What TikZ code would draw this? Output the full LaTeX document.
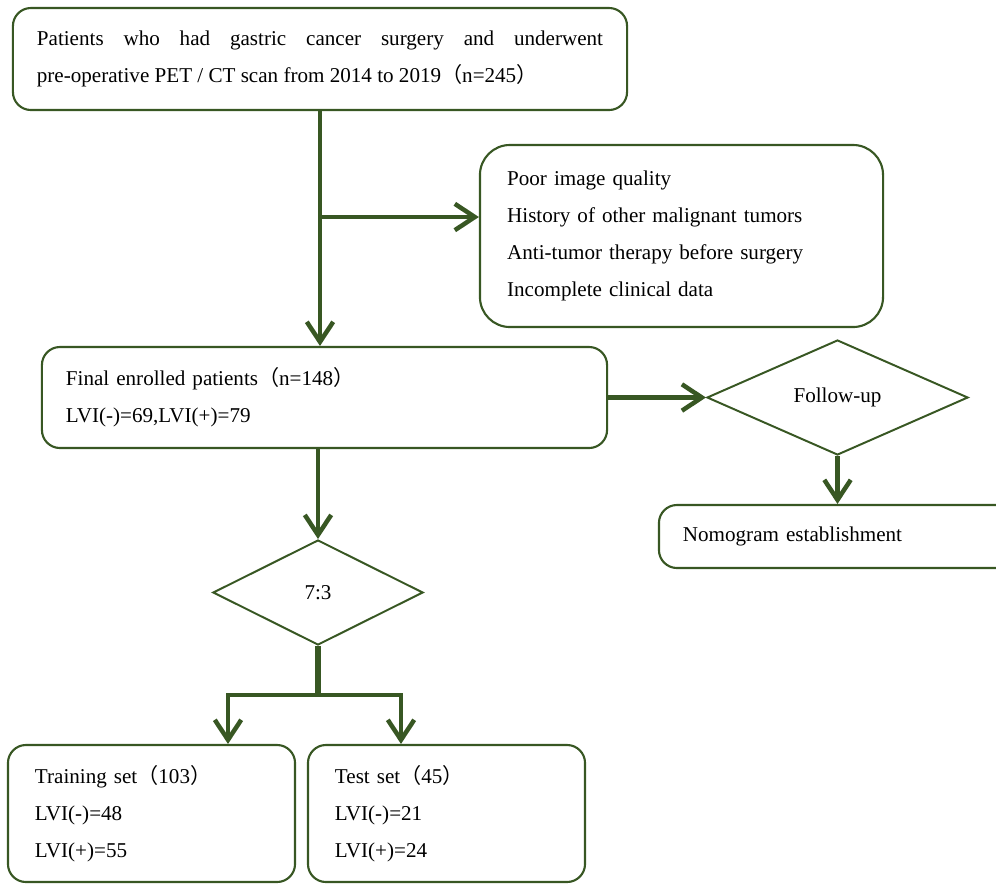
\documentclass[tikz,border=0pt]{standalone}
\usepackage{fontspec}
\setmainfont{Liberation Serif}
\newfontfamily\cjk{Noto Sans CJK SC}
\usepackage{tikz}
\usetikzlibrary{arrows.meta,positioning,calc,shapes.geometric}
\definecolor{dgreen}{RGB}{56,87,35}
\newcommand{\fwl}{{\cjk （}}
\newcommand{\fwr}{{\cjk ）}}

\begin{document}
\begin{tikzpicture}[
    x=0.025cm, y=-0.025cm,
    box/.style={draw=dgreen, line width=1.5pt, rounded corners=0.45cm, align=left, inner xsep=0.6cm, inner ysep=0pt,
                font=\fontsize{15}{26.2}\selectfont},
    choice/.style={draw=dgreen, line width=1.4pt, diamond, inner sep=0pt, font=\fontsize{15}{26.2}\selectfont},
    wire/.style={draw=dgreen, line width=3.2pt, -{Straight Barb[length=0.5cm, width=0.66cm]}},
    link/.style={draw=dgreen, line width=3.6pt}
  ]
  \useasboundingbox (0,0) rectangle (996,884);

  \node[box, minimum width=15.35cm, minimum height=2.55cm, text width=14.15cm, align=justify] (top) at (320,59)
    {Patients who had gastric cancer surgery and underwent\linebreak pre-operative PET / CT scan from 2014 to 2019\fwl n=245\fwr};
  \node[box, rounded corners=0.75cm, inner xsep=0.68cm, minimum width=10.075cm, minimum height=4.55cm, text width=8.715cm] (excl) at (681.5,236)
    {Poor image quality\\History of other malignant tumors\\Anti-tumor therapy before surgery\\Incomplete clinical data};
  \node[box, minimum width=14.125cm, minimum height=2.525cm, text width=12.925cm] (final) at (324.5,397.5)
    {Final enrolled patients\fwl n=148\fwr\\LVI(-)=69,LVI(+)=79};
  \node[choice, minimum width=6.525cm, minimum height=2.875cm] (follow) at (837.5,397.5) {Follow-up};
  \node[box, minimum width=8.9cm, minimum height=1.575cm, text width=7.7cm] (nomo) at (837,536.5) {Nomogram establishment};
  \node[choice, minimum width=5.25cm, minimum height=2.625cm] (split) at (318,592.5) {7:3};
  \node[box, inner xsep=0.675cm, minimum width=7.175cm, minimum height=3.425cm, text width=5.825cm] (train) at (151.5,813.5)
    {Training set\fwl 103\fwr\\LVI(-)=48\\LVI(+)=55};
  \node[box, inner xsep=0.675cm, minimum width=6.925cm, minimum height=3.425cm, text width=5.575cm] (test) at (446.5,813.5)
    {Test set\fwl 45\fwr\\LVI(-)=21\\LVI(+)=24};

  \coordinate (branch) at (320,217);
  \coordinate (fork) at (318,695);
  \coordinate (forkL) at (228,695);
  \coordinate (forkR) at (401,695);

  \draw[wire] (top.south) -- (top.south |- final.north);
  \draw[wire] (branch) -- (branch -| excl.west);
  \draw[wire] (final.east) -- (follow.west);
  \draw[wire] (follow.south) -- (follow.south |- nomo.north);
  \draw[wire] (split.north |- final.south) -- (split.north);
  \draw[link] (split.south) -- (fork);
  \draw[wire] (fork) -- (forkL) -- (forkL |- train.north);
  \draw[wire] (fork) -- (forkR) -- (forkR |- test.north);
\end{tikzpicture}
\end{document}
